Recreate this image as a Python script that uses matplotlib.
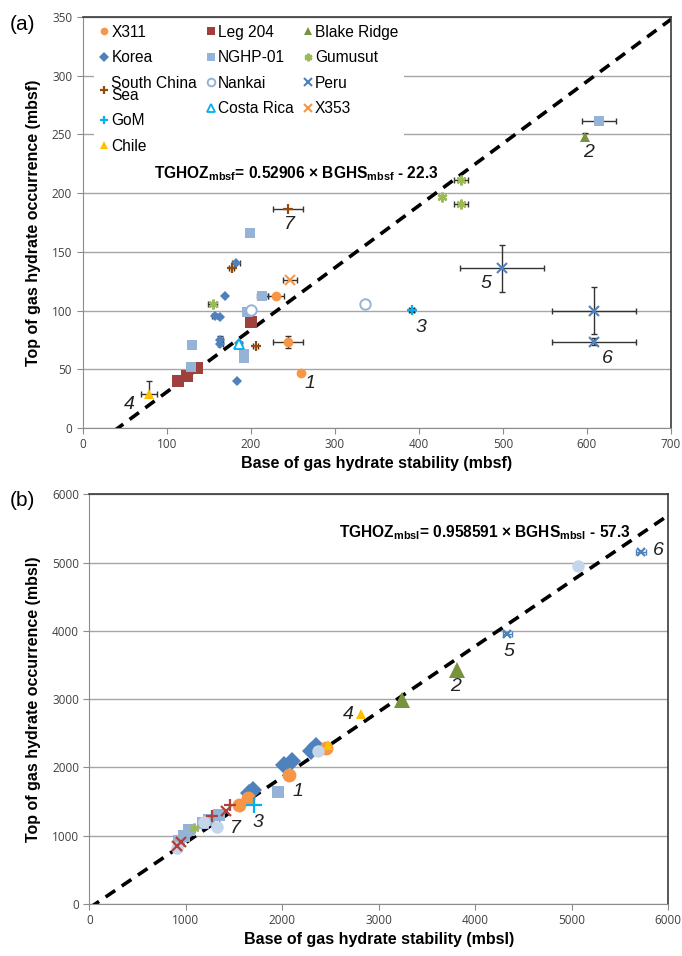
import numpy as np
import matplotlib
matplotlib.use("Agg")
import matplotlib.pyplot as plt
from matplotlib.lines import Line2D

plt.rcParams['font.family'] = ['Liberation Sans', 'DejaVu Sans']
plt.rcParams['mathtext.fontset'] = 'custom'
plt.rcParams['mathtext.bf'] = 'Liberation Sans:bold'
plt.rcParams['mathtext.rm'] = 'Liberation Sans:bold'

# ---- panel (a) data, mbsf: x = BGHS, y = TGHOZ, xerr, yerr ----
a_x311_x = [230, 244.6, 259.3]
a_x311_y = [112, 73.5, 47]
a_x311_xe = [10, 18, 0]
a_x311_ye = [0, 5, 0]

a_leg204_x = [199.8, 135.6, 123.7, 113.8]
a_leg204_y = [90.5, 50.8, 44.6, 40.3]

a_blake_x = [598]
a_blake_y = [248]

a_korea_x = [182.4, 169.3, 157.4, 164, 164, 164, 183.2, 186]
a_korea_y = [140.8, 112.4, 95.7, 94.8, 75, 71.5, 40, 72]
a_korea_xe = [5, 0, 3, 0, 3, 3, 0, 0]
a_korea_ye = [0, 0, 0, 0, 3, 0, 0, 0]

a_nghp_x = [199, 214, 195, 129.7, 192.3, 192.3, 128.5, 614]
a_nghp_y = [166.4, 112.4, 98.5, 70.7, 63, 59.4, 52.2, 261.8]
a_nghp_xe = [0, 6, 0, 0, 0, 0, 0, 20]

a_gumusut_x = [154.7, 450, 427.7, 450]
a_gumusut_y = [105.6, 211.2, 196.5, 190.8]
a_gumusut_xe = [5, 8, 0, 8]

a_scs_x = [244.6, 177.3, 205.8]
a_scs_y = [186.3, 136, 70.1]
a_scs_xe = [17.5, 3, 3]

a_nankai_x = [335.8, 199.8]
a_nankai_y = [105.6, 100.5]
a_nankai_xe = [3, 3]

a_peru_x = [499, 608.4, 608.4]
a_peru_y = [136, 100, 73.5]
a_peru_xe = [50, 50, 50]
a_peru_ye = [20, 20, 3]

a_gom_x = [391.3]
a_gom_y = [100.5]

a_costa_x = [186.3]
a_costa_y = [71.5]

a_x353_x = [246.6]
a_x353_y = [126]
a_x353_xe = [8]

a_chile_x = [79]
a_chile_y = [29]
a_chile_xe = [10]
a_chile_ye_lo = [3]
a_chile_ye_hi = [11]

a_site_labels = ['1', '2', '3', '4', '5', '6', '7']
a_label_x = [270, 602, 403, 55, 480, 624, 246]
a_label_y = [38, 235, 86, 20, 123, 59, 173]

# ---- panel (b) data, mbsl ----
b_x311_x = [2453, 2072, 1552, 1639]
b_x311_y = [2286, 1892, 1455, 1553]

b_redx_x = [1414, 947, 912]
b_redx_y = [1357, 913, 850]

b_scs_x = [1275, 1456]
b_scs_y = [1285, 1455]

b_blake_x = [3806, 3242]
b_blake_y = [3428, 2989]

b_korea_x = [2020, 2104, 2297, 2349, 1691, 1656]
b_korea_y = [2041, 2095, 2237, 2310, 1675, 1626]

b_nghp_x = [1957, 1345, 1241, 1172, 1033, 981, 929]
b_nghp_y = [1637, 1309, 1236, 1187, 1089, 992, 919]

b_gumusut_x = [1085]
b_gumusut_y = [1109]

b_nankai_x = [1327, 1189, 2366, 912, 5059]
b_nankai_y = [1124, 1201, 2237, 815, 4952]

b_peru_x = [4332, 5716]
b_peru_y = [3951, 5162]
b_peru_xe = [45, 55]

b_gom_x = [1708]
b_gom_y = [1455]

b_chile_x = [2816, 2470]
b_chile_y = [2784, 2334]

b_site_labels = ['1', '2', '3', '4', '5', '6', '7']
b_label_x = [2160, 3795, 1750, 2687, 4349, 5896, 1511]
b_label_y = [1641, 3184, 1201, 2769, 3697, 5177, 1109]

# regression lines
a_slope, a_icpt = 0.52906, -22.3
b_slope, b_icpt = 0.958591, -57.3

ORANGE = '#F79646'
DKRED = '#A0403C'
GREEN = '#77933C'
LTGREEN = '#9BBB59'
BLUE = '#4F81BD'
LTBLUE = '#95B3D7'
BROWN = '#984807'
CYAN = '#00B0F0'
YELLOW = '#FFC000'
ERR = '#333333'


def style_axes(ax, xmax, ymax, xstep, ystep):
    ax.set_xlim(0, xmax)
    ax.set_ylim(0, ymax)
    ax.set_xticks(np.arange(0, xmax + 1, xstep))
    ax.set_yticks(np.arange(0, ymax + 1, ystep))
    ax.yaxis.grid(True, color='#A6A6A6', lw=1.0)
    ax.set_axisbelow(True)
    for s in ['left', 'bottom']:
        ax.spines[s].set_color('#8C8C8C')
    for s in ['top', 'right']:
        ax.spines[s].set_color('#3A3A3A')
        ax.spines[s].set_linewidth(1.2)
    ax.tick_params(direction='out', length=4, color='#8C8C8C',
                   labelsize=8.5, labelcolor='#404040')
    for lab in ax.get_xticklabels() + ax.get_yticklabels():
        lab.set_family('Open Sans')


def errs(ax, x, y, xe=None, ye=None, color=ERR):
    ax.errorbar(x, y, xerr=xe, yerr=ye, fmt='none', ecolor=color,
                elinewidth=1.0, capsize=2.5, capthick=1.0, zorder=3)


fig = plt.figure(figsize=(6.82, 9.56), dpi=100)
ax1 = fig.add_axes([0.1211, 0.5523, 0.8628, 0.4299])
ax2 = fig.add_axes([0.1312, 0.0544, 0.8487, 0.4284])

# ---------------- panel (a) ----------------
ax = ax1
style_axes(ax, 700, 350, 100, 50)
xs = np.array([0, 700])
ax.plot(xs, a_slope * xs + a_icpt, color='black', lw=2.6,
        linestyle=(0, (3.2, 2.2)), zorder=2)

h = {}
h['X311'] = ax.plot(a_x311_x, a_x311_y, 'o', color=ORANGE, ms=7, mew=0, zorder=4)[0]
errs(ax, a_x311_x, a_x311_y, a_x311_xe, a_x311_ye)
h['Leg 204'] = ax.plot(a_leg204_x, a_leg204_y, 's', color=DKRED, ms=8, mew=0, zorder=4)[0]
h['Blake Ridge'] = ax.plot(a_blake_x, a_blake_y, '^', color=GREEN, ms=7, mew=0, zorder=4)[0]
errs(ax, a_blake_x, a_blake_y, None, [3])
h['Korea'] = ax.plot(a_korea_x, a_korea_y, 'D', color=BLUE, ms=5, mew=0, zorder=4)[0]
errs(ax, a_korea_x, a_korea_y, a_korea_xe, a_korea_ye)
h['NGHP-01'] = ax.plot(a_nghp_x, a_nghp_y, 's', color=LTBLUE, ms=7, mew=0, zorder=4)[0]
errs(ax, a_nghp_x, a_nghp_y, a_nghp_xe, None)
h['Gumusut'] = ax.plot(a_gumusut_x, a_gumusut_y, marker=(6, 2, 0), ls='none',
                       color=LTGREEN, ms=7, mew=1.8, zorder=4)[0]
errs(ax, a_gumusut_x, a_gumusut_y, a_gumusut_xe, None)
h['South China\nSea'] = ax.plot(a_scs_x, a_scs_y, '+', color=BROWN, ms=7, mew=1.6, zorder=4)[0]
errs(ax, a_scs_x, a_scs_y, a_scs_xe, None)
h['Nankai'] = ax.plot(a_nankai_x, a_nankai_y, 'o', mfc='white', mec=LTBLUE,
                      ms=7.5, mew=1.4, zorder=4)[0]
errs(ax, a_nankai_x, a_nankai_y, a_nankai_xe, None)
h['Peru'] = ax.plot(a_peru_x, a_peru_y, 'x', color=BLUE, ms=7, mew=1.5, zorder=4)[0]
errs(ax, a_peru_x, a_peru_y, a_peru_xe, a_peru_ye)
h['GoM'] = ax.plot(a_gom_x, a_gom_y, '+', color=CYAN, ms=7, mew=1.6, zorder=4)[0]
errs(ax, a_gom_x, a_gom_y, [3], [2])
h['Costa Rica'] = ax.plot(a_costa_x, a_costa_y, '^', mfc='white', mec=CYAN,
                          ms=7, mew=1.3, zorder=4)[0]
errs(ax, a_costa_x, a_costa_y, [3], None)
h['X353'] = ax.plot(a_x353_x, a_x353_y, 'x', color=ORANGE, ms=7, mew=1.5, zorder=4)[0]
errs(ax, a_x353_x, a_x353_y, a_x353_xe, None)
h['Chile'] = ax.plot(a_chile_x, a_chile_y, '^', color=YELLOW, ms=7, mew=0, zorder=4)[0]
errs(ax, a_chile_x, a_chile_y, a_chile_xe, [a_chile_ye_lo, a_chile_ye_hi])

for t, x, y in zip(a_site_labels, a_label_x, a_label_y):
    ax.text(x, y, t, fontsize=14, style='italic', color='#222222',
            ha='center', va='center', zorder=5)

order = ['X311', 'Korea', 'South China\nSea', 'GoM', 'Chile',
         'Leg 204', 'NGHP-01', 'Nankai', 'Costa Rica',
         'Blake Ridge', 'Gumusut', 'Peru', 'X353']
leg_handles = []
for k in order:
    src = h[k]
    leg_handles.append(Line2D([], [], ls='none', marker=src.get_marker(),
                              mfc=src.get_markerfacecolor(), mec=src.get_markeredgecolor(),
                              mew=src.get_markeredgewidth(), ms=5.5))
leg = ax.legend(leg_handles, order, ncol=3, loc='upper left',
                bbox_to_anchor=(0.02, 0.995), fontsize=11.2, frameon=True,
                framealpha=1, edgecolor='none', facecolor='white',
                handlelength=0.6, handletextpad=0.15, columnspacing=0.6,
                labelspacing=0.68, borderpad=0.35, borderaxespad=0)
for t in leg.get_texts():
    t.set_linespacing(0.75)
leg.set_zorder(4.5)

ax.text(85, 217, r'TGHOZ$_{\mathbf{mbsf}}$= 0.52906 × BGHS$_{\mathbf{mbsf}}$ - 22.3',
        fontsize=11.2, fontweight='bold', ha='left', va='center', zorder=5)

ax.set_xlabel('Base of gas hydrate stability (mbsf)', fontsize=11.5,
              fontweight='bold', labelpad=3)
ax.set_ylabel('Top of gas hydrate occurrence (mbsf)', fontsize=11.5,
              fontweight='bold', labelpad=8)

# ---------------- panel (b) ----------------
ax = ax2
style_axes(ax, 6000, 6000, 1000, 1000)
xs = np.array([0, 6000])
ax.plot(xs, b_slope * xs + b_icpt, color='black', lw=2.6,
        linestyle=(0, (3.2, 2.2)), zorder=2)

ax.plot(b_nghp_x, b_nghp_y, 's', color=LTBLUE, ms=8, mew=0, zorder=4)
ax.plot(b_korea_x, b_korea_y, 'D', color=BLUE, ms=9, mew=0, zorder=4)
ax.plot(b_x311_x, b_x311_y, 'o', color=ORANGE, ms=10, mew=0, zorder=4)
ax.plot(b_blake_x, b_blake_y, '^', color=GREEN, ms=11, mew=0, zorder=4)
ax.plot(b_chile_x, b_chile_y, '^', color=YELLOW, ms=7, mew=0, zorder=4)
ax.plot(b_gumusut_x, b_gumusut_y, marker=(6, 2, 0), ls='none', color=LTGREEN,
        ms=7, mew=1.8, zorder=4)
ax.plot(b_nankai_x, b_nankai_y, 'o', color='#C5D5EA', ms=9, mew=0, zorder=4)
errs(ax, b_nankai_x, b_nankai_y, [20] * len(b_nankai_x), [20] * len(b_nankai_x),
     color='black')
ax.plot(b_scs_x, b_scs_y, '+', color='#B0403A', ms=9, mew=1.6, zorder=5)
ax.plot(b_redx_x, b_redx_y, 'x', color='#B0403A', ms=7, mew=1.6, zorder=5)
ax.plot(b_gom_x, b_gom_y, '+', color=CYAN, ms=11, mew=1.6, zorder=5)
ax.plot(b_peru_x, b_peru_y, 'x', color=BLUE, ms=6, mew=1.6, zorder=5)
errs(ax, b_peru_x, b_peru_y, b_peru_xe, None, color=BLUE)

for t, x, y in zip(b_site_labels, b_label_x, b_label_y):
    ax.text(x, y, t, fontsize=14, style='italic', color='#222222',
            ha='center', va='center', zorder=5)

ax.text(5613, 5436, r'TGHOZ$_{\mathbf{mbsl}}$= 0.958591 × BGHS$_{\mathbf{mbsl}}$ - 57.3',
        fontsize=11.2, fontweight='bold', ha='right', va='center', zorder=5)

ax.set_xlabel('Base of gas hydrate stability (mbsl)', fontsize=11.5,
              fontweight='bold', labelpad=3)
ax.set_ylabel('Top of gas hydrate occurrence (mbsl)', fontsize=11.5,
              fontweight='bold', labelpad=8)

fig.text(10 / 682, 1 - 24 / 956, '(a)', fontsize=15, va='center', ha='left')
fig.text(10 / 682, 1 - 500 / 956, '(b)', fontsize=15, va='center', ha='left')

fig.savefig('out.png', dpi=100)
